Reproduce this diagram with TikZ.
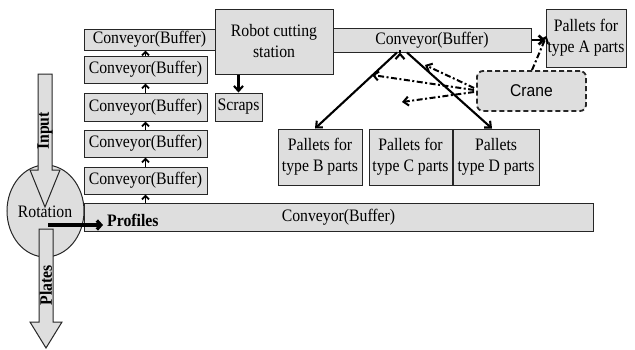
\documentclass[tikz,border=0pt]{standalone}
\usepackage{fontspec}
\setmainfont{Liberation Serif}[FakeStretch=0.9]
\newfontfamily\sansf{Liberation Sans}[FakeStretch=0.92]
\usetikzlibrary{arrows.meta,shapes.geometric,calc}
\begin{document}
\begin{tikzpicture}[x=1pt,y=-1pt,
  box/.style={draw=black!85, fill=black!13, line width=1pt, inner sep=0pt, align=center,
    font=\fontsize{17.5}{21}\selectfont},
  txt/.style={inner sep=0pt, font=\fontsize{17.5}{21}\selectfont},
  btxt/.style={inner sep=0pt, font=\fontsize{17.5}{21}\selectfont\bfseries},
  arr/.style={-{Straight Barb[length=5pt,width=9pt]}, line width=2.1pt},
  sarr/.style={-{Straight Barb[length=3.5pt,width=7pt]}, line width=1.9pt},
  dd/.style={-{Straight Barb[length=5pt,width=9pt]}, line width=2pt,
    dash pattern=on 6pt off 2.5pt on 2pt off 2.5pt},
  bigarrow/.style={draw=black!85, fill=black!13, line width=1pt}]
\useasboundingbox (0,0) rectangle (635,349);

% left stack of conveyors
\node[box, minimum width=131pt, minimum height=21pt] (c0) at (149.5,39.5) {Conveyor(Buffer)};
\node[box, minimum width=123pt, minimum height=27pt] (c1) at (145.5,69.5) {Conveyor(Buffer)};
\node[box, minimum width=123pt, minimum height=28pt] (c2) at (145.5,107) {Conveyor(Buffer)};
\node[box, minimum width=123pt, minimum height=27pt] (c3) at (145.5,143.5) {Conveyor(Buffer)};
\node[box, minimum width=123pt, minimum height=27pt] (c4) at (145.5,180.5) {Conveyor(Buffer)};

% robot station, conveyor, scraps
\node[box, minimum width=118pt, minimum height=65pt] (robot) at (274,41.5) {Robot cutting\\station};
\node[box, minimum width=198pt, minimum height=24pt] (conv) at (432,40) {Conveyor(Buffer)};
\node[box, minimum width=47pt, minimum height=28pt] (scraps) at (238.5,107) {Scraps};

% pallets
\node[box, minimum width=80pt, minimum height=58pt] (palA) at (586,38) {Pallets for\\type A parts};
\node[box, minimum width=84pt, minimum height=56pt] (palB) at (320,157) {Pallets for\\type B parts};
\node[box, minimum width=83pt, minimum height=56pt] (palC) at (410.5,157) {Pallets for\\type C parts};
\node[box, minimum width=86pt, minimum height=56pt] (palD) at (496,157) {Pallets\\type D parts};

% crane
\node[box, line width=1.8pt, dash pattern=on 5pt off 3pt, rounded corners=6pt, minimum width=109pt, minimum height=40pt,
  font=\fontsize{17}{19}\sansf] (crane) at (531.5,91) {Crane};

% bottom conveyor
\node[box, minimum width=509pt, minimum height=28pt] (bot) at (338.5,217) {Conveyor(Buffer)};

% rotation ellipse
\node[ellipse, draw=black!85, fill=black!13, line width=1pt, minimum width=77pt,
  minimum height=92pt, inner sep=0pt] (rot) at (45.5,211) {};

% input arrow
\filldraw[bigarrow] (38,74) -- (52,74) -- (52,170) -- (60,170) -- (45,207) -- (30,170) -- (38,170) -- cycle;
\node[btxt, rotate=90] (input) at (45,131) {Input};

% plates arrow
\filldraw[bigarrow] (39,229) -- (53,229) -- (53,322) -- (62,322) -- (46,348) -- (30,322) -- (39,322) -- cycle;
\node[btxt, rotate=90] (plates) at (46,285) {Plates};

\node[txt] (rottxt) at (45,212) {Rotation};

% profiles arrow
\coordinate (pstart) at (48,225);
\draw[-{Straight Barb[length=4pt,width=9pt]}, line width=3.2pt] (pstart) -- (pstart -| 103,0);
\node[btxt, anchor=west] (prof) at (107,220) {Profiles};

% stack arrows
\draw[sarr] (bot.north -| c4.south) -- (c4.south);
\draw[sarr] (c4.north) -- (c3.south);
\draw[sarr] (c3.north) -- (c2.south);
\draw[sarr] (c2.north) -- (c1.south);
\draw[sarr] (c1.north) -- (c1.north |- c0.south);

% robot to scraps
\draw[arr] (robot.south -| scraps.north) -- (scraps.north);

% conveyor to pallets
\draw[-{Straight Barb[length=5pt,width=9pt]}, line width=2.6pt] (conv.east) -- (conv.east -| palA.west);
\draw[arr] ($(conv.south)+(-35,0)$) -- ($(palB.north)+(-5,0)$);
\draw[arr] ($(conv.south)+(-32,0)$) -- ($(conv.south)+(-32,0)$ |- palC.north);
\draw[arr] ($(conv.south)+(-25,0)$) -- ($(palD.north)+(-4,0)$);

% crane arrows
\coordinate (tB) at (372,75);
\coordinate (tC) at (402,102);
\coordinate (tD) at (425,65);
\draw[dd] ($(crane.west)+(-2,-1)$) -- (tB);
\draw[dd] ($(crane.west)+(-2,1)$) -- (tC);
\draw[dd] ($(crane.west)+(-2,-3)$) -- (tD);
\draw[dd] ($(crane.north)+(0.5,0)$) -- ($(palA.west)+(1,-2)$);
\end{tikzpicture}
\end{document}
